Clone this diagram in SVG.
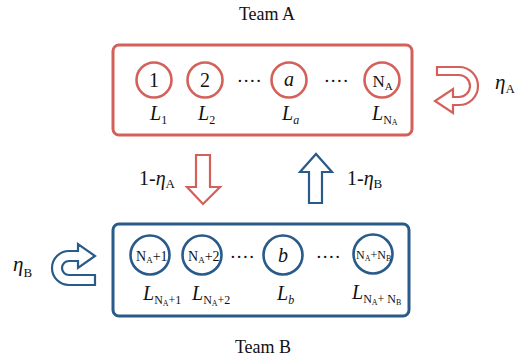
<svg xmlns="http://www.w3.org/2000/svg" width="522" height="357" viewBox="0 0 522 357">
<style>
text{font-family:"Liberation Serif","Times New Roman",serif;fill:#111}
.red{fill:none;stroke:#D4605A}
.blue{fill:none;stroke:#285A8A}
.box{stroke-width:3}
.node{stroke-width:2.6;fill:#fff}
.arr{stroke-width:2.2;stroke-linejoin:miter}
.it{font-style:italic}
.dots{letter-spacing:1.5px}
</style>
<rect width="522" height="357" fill="#fff"/>
<text x="267" y="20" font-size="18" text-anchor="middle">Team A</text>
<text x="263" y="353" font-size="18" text-anchor="middle">Team B</text>
<g id="teamA">
<rect class="red box" x="113" y="45" width="299" height="90" rx="6"/>
</g>
<g id="teamB">
<rect class="blue box" x="113" y="224" width="296" height="92" rx="6"/>
</g>
<g id="node1"><circle class="red node" cx="154" cy="80" r="17.5"/><text x="154" y="87" font-size="20" text-anchor="middle">1</text><text x="150" y="120" font-size="20"><tspan class="it">L</tspan><tspan font-size="12" dy="4">1</tspan></text></g>
<g id="node2"><circle class="red node" cx="205" cy="80" r="17.5"/><text x="205" y="87" font-size="20" text-anchor="middle">2</text><text x="198" y="120" font-size="20"><tspan class="it">L</tspan><tspan font-size="12" dy="4">2</tspan></text></g>
<g id="nodea"><circle class="red node" cx="289" cy="80" r="17.5"/><text x="289" y="86" font-size="20" text-anchor="middle" class="it">a</text><text x="282" y="120" font-size="20"><tspan class="it">L</tspan><tspan font-size="12" dy="4" class="it">a</tspan></text></g>
<g id="nodeNA"><circle class="red node" cx="382" cy="80" r="17.5"/><text x="372.5" y="87" font-size="17">N<tspan font-size="11" dy="3">A</tspan></text><text x="372" y="120" font-size="20"><tspan class="it">L</tspan><tspan font-size="12" dy="4">N</tspan><tspan font-size="8" dy="1">A</tspan></text></g>
<text class="dots" x="250" y="82" font-size="19" text-anchor="middle">....</text>
<text class="dots" x="337" y="82" font-size="19" text-anchor="middle">....</text>
<g id="nodeB1"><circle class="blue node" cx="150" cy="255" r="19.5"/><text x="136" y="261" font-size="14">N<tspan font-size="9" dy="2">A</tspan><tspan dy="-2">+1</tspan></text><text x="143" y="300" font-size="20"><tspan class="it">L</tspan><tspan font-size="12" dy="4">N</tspan><tspan font-size="8" dy="2">A</tspan><tspan font-size="12" dy="-2">+1</tspan></text></g>
<g id="nodeB2"><circle class="blue node" cx="202" cy="255" r="19.5"/><text x="188" y="261" font-size="14">N<tspan font-size="9" dy="2">A</tspan><tspan dy="-2">+2</tspan></text><text x="192" y="300" font-size="20"><tspan class="it">L</tspan><tspan font-size="12" dy="4">N</tspan><tspan font-size="8" dy="2">A</tspan><tspan font-size="12" dy="-2">+2</tspan></text></g>
<g id="nodeb"><circle class="blue node" cx="283" cy="255" r="19.5"/><text x="283" y="262" font-size="20" text-anchor="middle" class="it">b</text><text x="277" y="300" font-size="20"><tspan class="it">L</tspan><tspan font-size="12" dy="4" class="it">b</tspan></text></g>
<g id="nodeBN"><circle class="blue node" cx="373" cy="254" r="19.5"/><text x="356" y="259" font-size="12">N<tspan font-size="8" dy="2">A</tspan><tspan dy="-2">+N</tspan><tspan font-size="8" dy="2">B</tspan></text><text x="352" y="299" font-size="20"><tspan class="it">L</tspan><tspan font-size="12" dy="4">N</tspan><tspan font-size="8" dy="2">A</tspan><tspan font-size="12" dy="-2">+ N</tspan><tspan font-size="8" dy="2">B</tspan></text></g>
<text class="dots" x="243" y="258" font-size="19" text-anchor="middle">....</text>
<text class="dots" x="329" y="258" font-size="19" text-anchor="middle">....</text>
<g id="connectors">
<path class="red arr" d="M196,155 H210 V187 H220 L203,204 L187,187 H196 Z"/>
<path class="blue arr" d="M309,203 V172 H300 L316,154 L332,172 H322 V203 Z"/>
<path class="red arr" d="M437,67 H459 A19,19 0 0 1 459,105 H453 V113 L435,101 L453,89 V97 H459 A11,11 0 0 0 459,75 H437 Z"/>
<path class="blue arr" d="M78,251 H69 A17,17 0 0 0 69,285 H95 V275 H69 A7,7 0 0 1 69,261 H78 V268 L95,256 L78,244 Z"/>
</g>
<text x="139" y="185" font-size="20">1-<tspan class="it">η</tspan><tspan font-size="13" dy="3">A</tspan></text>
<text x="347" y="185" font-size="20">1-<tspan class="it">η</tspan><tspan font-size="13" dy="3">B</tspan></text>
<text x="495" y="89" font-size="21"><tspan class="it">η</tspan><tspan font-size="13" dy="4">A</tspan></text>
<text x="13" y="271" font-size="21"><tspan class="it">η</tspan><tspan font-size="13" dy="6">B</tspan></text>
</svg>
